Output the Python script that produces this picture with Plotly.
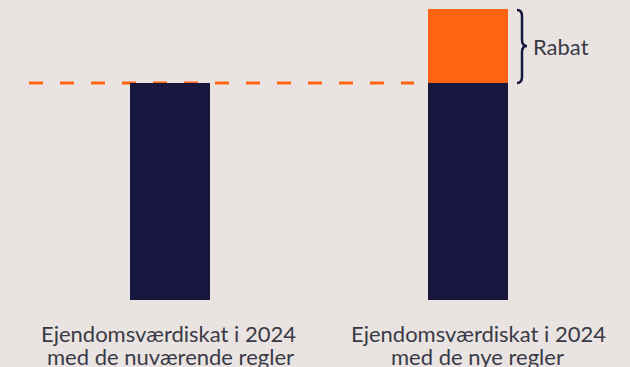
import plotly.graph_objects as go

label_line1 = ["Ejendomsværdiskat i 2024", "Ejendomsværdiskat i 2024"]
label_line2 = ["med de nuværende regler", "med de nye regler"]
base_values = [100, 100]
rabat_values = [0, 34]
rabat_label = "Rabat"

BG = "#e9e4e1"
NAVY = "#17173f"
ORANGE = "#ff6510"
TEXT = "#3a3a46"
FONT = "Lato"

W, H = 630, 367
PLOT_H = 300
ymax = 100 * PLOT_H / 217.0

xs = [0, 1]
fig = go.Figure()
fig.add_trace(go.Bar(x=xs, y=base_values, marker=dict(color=NAVY, line=dict(width=0)),
                     width=0.2685, hoverinfo="skip"))
fig.add_trace(go.Bar(x=xs, y=rabat_values, marker=dict(color=ORANGE, line=dict(width=0)),
                     width=0.2685, hoverinfo="skip"))

# dashed reference line at the current-rules level
fig.add_shape(type="line", xref="x", yref="y",
              x0=(29 - 170) / 298, x1=(414 - 170) / 298,
              y0=base_values[0], y1=base_values[0],
              line=dict(color=ORANGE, width=3, dash="14px,17px"), layer="below")


def px(x):
    return x / W


def py(y):
    return (PLOT_H - y) / PLOT_H


# brace
path = (f"M {px(517)},{py(10)} Q {px(522)},{py(10)} {px(522)},{py(16)} "
        f"L {px(522)},{py(40)} Q {px(522)},{py(46)} {px(527)},{py(46)} "
        f"Q {px(522)},{py(46)} {px(522)},{py(52)} "
        f"L {px(522)},{py(77)} Q {px(522)},{py(83)} {px(517)},{py(83)}")
fig.add_shape(type="path", xref="paper", yref="paper", path=path,
              line=dict(color=NAVY, width=2.5))

fig.add_annotation(text=rabat_label, xref="paper", yref="paper",
                   x=px(531), y=py(46), xanchor="left", yanchor="middle",
                   showarrow=False, font=dict(size=22, color=TEXT, family=FONT))

label_x1 = [168, 478.5]
label_x2 = [170, 477.5]
for i in range(2):
    fig.add_annotation(text=label_line1[i], xref="paper", yref="paper",
                       x=px(label_x1[i]), y=py(318), xanchor="center", yanchor="top",
                       showarrow=False, font=dict(size=22, color=TEXT, family=FONT))
    fig.add_annotation(text=label_line2[i], xref="paper", yref="paper",
                       x=px(label_x2[i]), y=py(341), xanchor="center", yanchor="top",
                       showarrow=False, font=dict(size=22, color=TEXT, family=FONT))

fig.update_layout(
    width=W, height=H, barmode="stack", showlegend=False,
    paper_bgcolor=BG, plot_bgcolor=BG,
    margin=dict(l=0, r=0, t=0, b=H - PLOT_H),
    xaxis=dict(range=[-170 / 298, 1 + (630 - 468) / 298], visible=False, fixedrange=True),
    yaxis=dict(range=[0, ymax], visible=False, fixedrange=True),
)

fig.write_html("out.html")
